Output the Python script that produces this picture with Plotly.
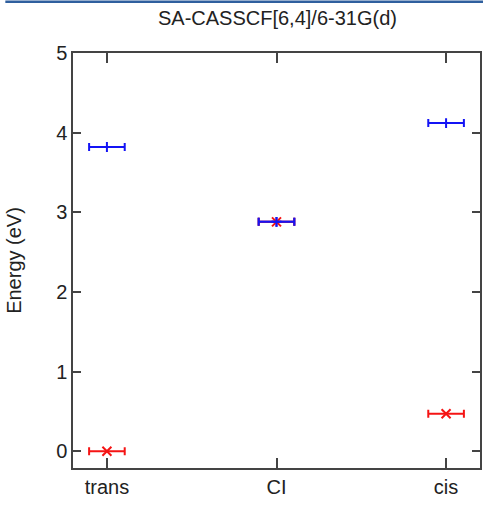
import plotly.graph_objects as go

categories = ["trans", "CI", "cis"]
x_pos = [0, 1, 2]
upper_state = [3.82, 2.88, 4.12]
lower_state = [0.0, 2.88, 0.47]
x_err = [0.105, 0.105, 0.105]
y_ticks = [0, 1, 2, 3, 4, 5]

BLUE = "#1414f5"
RED = "#f51414"

fig = go.Figure()
fig.add_trace(go.Scatter(
    x=x_pos, y=upper_state, mode="markers",
    marker=dict(symbol="cross-thin-open", size=7, color=BLUE,
                line=dict(color=BLUE, width=2)),
    error_x=dict(type="data", array=x_err, color=BLUE, thickness=2, width=4),
    showlegend=False,
))
fig.add_trace(go.Scatter(
    x=x_pos, y=lower_state, mode="markers",
    marker=dict(symbol="x-thin-open", size=9, color=RED,
                line=dict(color=RED, width=2)),
    error_x=dict(type="data", array=x_err, color=RED, thickness=2, width=4),
    showlegend=False,
))
# CI: blue drawn over red as in reference
fig.add_trace(go.Scatter(
    x=[x_pos[1]], y=[upper_state[1]], mode="markers",
    marker=dict(symbol="cross-thin-open", size=7, color=BLUE,
                line=dict(color=BLUE, width=2)),
    error_x=dict(type="data", array=[x_err[1]], color=BLUE, thickness=2, width=4),
    showlegend=False,
))

PW, PH = 409, 418
fig.update_layout(
    width=491, height=507,
    margin=dict(l=73, r=9, t=53, b=36),
    paper_bgcolor="white", plot_bgcolor="white",
    font=dict(family="Liberation Sans, Arial, sans-serif", color="#222", size=20),
    title=dict(text="SA-CASSCF[6,4]/6-31G(d)", x=0.5651, xanchor="center",
               y=1 - 18 / 507, yanchor="middle",
               font=dict(size=20, color="#222")),
    xaxis=dict(range=[-0.2, 2.2], tickvals=x_pos, ticktext=categories,
               ticks="inside", ticklen=10, tickwidth=1.5, tickcolor="#444",
               showline=True, linecolor="#444", linewidth=1.5, mirror="ticks",
               showgrid=False, zeroline=False, tickfont=dict(size=20)),
    yaxis=dict(range=[-0.21, 5], tickvals=y_ticks,
               ticks="inside", ticklen=8, tickwidth=1.5, tickcolor="#444",
               showline=True, linecolor="#444", linewidth=1.5, mirror="ticks",
               showgrid=False, zeroline=False, tickfont=dict(size=20),
               title=dict(text="Energy (eV)", font=dict(size=20), standoff=29)),
    shapes=[dict(type="line", xref="paper", yref="paper",
                 x0=-68 / PW, x1=412 / PW, y0=1 + 51.5 / PH, y1=1 + 51.5 / PH,
                 line=dict(color="#2f5f9e", width=2.5))],
)

fig.write_html("out.html")
